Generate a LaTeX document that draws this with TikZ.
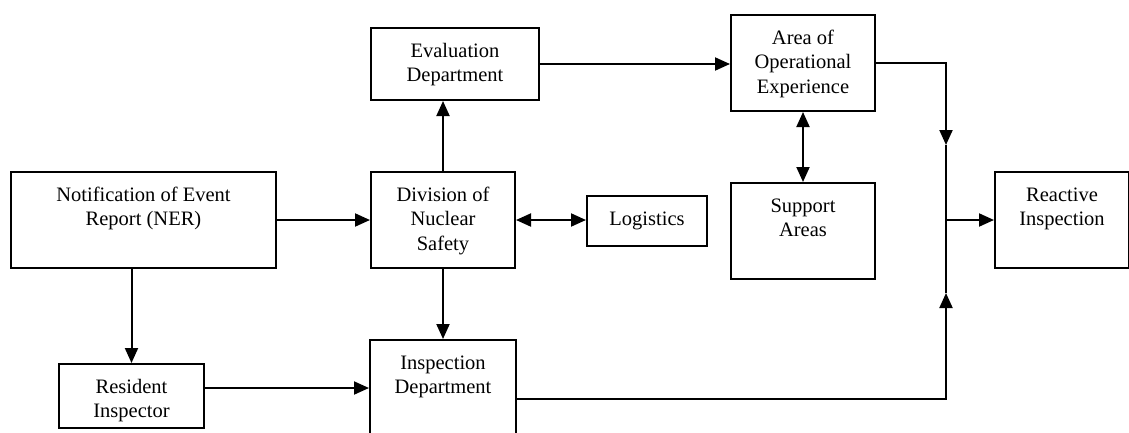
\documentclass[tikz,border=0pt]{standalone}
\usepackage{fontspec}
\setmainfont{Liberation Serif}
\usetikzlibrary{arrows.meta}

% box text: width, height, lines (first baseline 29pt below the top)
\newcommand{\flowtext}[3]{\parbox[c][#2pt][t]{#1pt}{\centering\rule{0pt}{29pt}#3}}

\begin{document}
\begin{tikzpicture}[x=1pt,y=-1pt,line width=2pt,
  >={Triangle[length=15pt,width=13pt]},
  box/.style={draw,fill=white,inner sep=0pt,anchor=north west,
    font=\fontsize{20.5}{24.5}\selectfont}]

  \useasboundingbox (0,0) rectangle (1129,432);

  \node[box] (ner)   at (10,171)  {\flowtext{265}{96}{Notification of Event\\Report (NER)}};
  \node[box] (res)   at (58,363)  {\flowtext{145}{64}{Resident\\Inspector}};
  \node[box] (div)   at (370,171) {\flowtext{144}{96}{Division of\\Nuclear\\Safety}};
  \node[box] (eval)  at (370,27)  {\flowtext{168}{72}{Evaluation\\Department}};
  \node[box] (log)   at (586,195) {\flowtext{120}{50}{Logistics}};
  \node[box] (area)  at (730,14)  {\flowtext{144}{96}{Area of\\Operational\\Experience}};
  \node[box] (sup)   at (730,182) {\flowtext{144}{96}{Support\\Areas}};
  \node[box] (react) at (994,171) {\flowtext{134}{96}{Reactive\\Inspection}};
  \node[box] (insp)  at (369,339) {\flowtext{146}{118}{Inspection\\Department}};

  % junction on the right
  \coordinate (jtop) at (946,145);
  \coordinate (jbot) at (946,293);

  \draw[->] (ner.east) -- (ner.east -| div.west);
  \draw[<->] (div.east) -- (div.east -| log.west);
  \draw[->] (div.north) -- (div.north |- eval.south);
  \draw[->] (eval.east) -- (eval.east -| area.west);
  \draw[<->] (area.south) -- (sup.north);
  \draw[->] (res.north |- ner.south) -- (res.north);
  \draw[->] ([yshift=8pt]res.east) -- ([yshift=8pt]res.east -| insp.west);
  \draw[->] (div.south) -- (div.south |- insp.north);
  \draw[->] (area.east) -| (jtop);
  \draw[->] (insp.east) -| (jbot);
  \draw (jtop) -- (jbot);
  \draw[->] (react.west -| jtop) -- (react.west);
\end{tikzpicture}
\end{document}
